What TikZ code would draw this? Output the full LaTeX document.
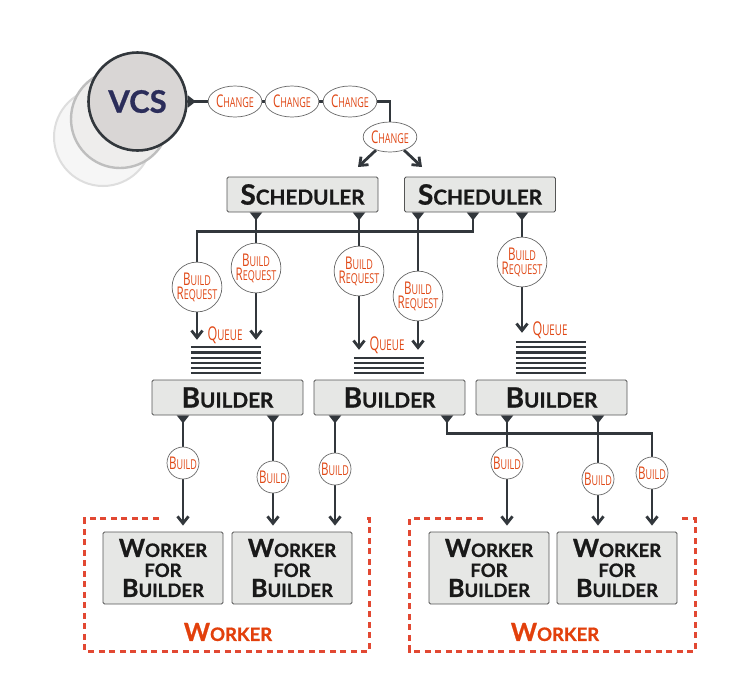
\documentclass[tikz,border=0pt]{standalone}
\usepackage{fontspec}
\setmainfont{Lato}[BoldFeatures={FakeBold=0.8}]
\newfontfamily\lblfont[FakeStretch=0.66]{Open Sans}
\usetikzlibrary{arrows.meta,shapes.geometric}
\definecolor{linec}{RGB}{50,55,60}
\definecolor{boxfill}{RGB}{230,231,229}
\definecolor{boxline}{RGB}{85,85,85}
\definecolor{msgtext}{RGB}{224,72,22}
\definecolor{msgline}{RGB}{105,105,105}
\definecolor{worker}{RGB}{226,64,12}
\definecolor{dashred}{RGB}{226,72,50}
\definecolor{vcsfill}{RGB}{217,214,213}
\definecolor{vcstext}{RGB}{43,45,90}
\definecolor{ghostA}{RGB}{238,237,236}
\definecolor{ghostAline}{RGB}{190,190,190}
\definecolor{ghostB}{RGB}{246,246,246}
\definecolor{ghostBline}{RGB}{222,222,222}
\makeatletter
\newcommand\scratio{0.74}
\newcommand\fsc[2]{#1{\fontsize{\fpeval{\scratio*\f@size}}{\f@baselineskip}\selectfont #2}}
\makeatother
\pgfdeclarelayer{bg}
\pgfsetlayers{bg,main}

\begin{document}
\begin{tikzpicture}[x=1pt, y=-1pt,
    every node/.style={inner sep=0pt},
    line/.style={draw=linec, line width=2.8pt},
    conn/.style={line, {Triangle[reversed, width=12pt, length=8pt]}-},
    arr/.style={line, -{Straight Barb[length=7pt, width=11pt]}},
    box/.style={draw=boxline, fill=boxfill, line width=0.8pt, rounded corners=1.5pt,
        minimum width=151pt, minimum height=35pt, text=black!90,
        font=\bfseries\fontsize{28}{30}\selectfont},
    wbox/.style={box, minimum width=120pt, minimum height=72pt, align=center,
        font=\bfseries\fontsize{25}{20}\selectfont},
    msg/.style={draw=msgline, fill=white, line width=0.7pt, text=msgtext, align=center},
    change/.style={msg, ellipse, minimum width=50pt, minimum height=31pt,
        font=\lblfont\fontsize{17.5}{17}\selectfont\def\scratio{0.78}},
    req/.style={msg, circle, minimum size=48pt,
        font=\lblfont\fontsize{17.5}{14}\selectfont\def\scratio{0.78}},
    build/.style={msg, circle, minimum size=32pt,
        font=\lblfont\fontsize{17.5}{14}\selectfont\def\scratio{0.78}},
    queue/.style={minimum width=70pt},
    qline/.style={draw=linec, line width=2.2pt},
    qlabel/.style={text=msgtext, font=\lblfont\fontsize{19}{19}\selectfont\def\scratio{0.78}},
    grp/.style={draw=dashred, line width=2.8pt, dash pattern=on 6pt off 4.5pt},
    grplabel/.style={text=worker, font=\bfseries\fontsize{25}{25}\selectfont}
]
\useasboundingbox (0,0) rectangle (747,681);

% version control
\node[circle, minimum size=98pt, draw=ghostBline, fill=ghostB, line width=2pt] (ghost2) at (103,137) {};
\node[circle, minimum size=98pt, draw=ghostAline, fill=ghostA, line width=2.4pt] (ghost1) at (120,119) {};
\node[circle, minimum size=98pt, draw=linec, fill=vcsfill, line width=2.6pt, text=vcstext,
    font=\bfseries\fontsize{31}{31}\selectfont] (vcs) at (137.5,101.5) {VCS};

\node[change] (ch1) at (235,101.5) {\fsc{C}{HANGE}};
\node[change] (ch2) at (292,101.5) {\fsc{C}{HANGE}};
\node[change] (ch3) at (350,101.5) {\fsc{C}{HANGE}};
\node[change, minimum width=49pt, minimum height=30pt] (ch4) at (390,137) {\fsc{C}{HANGE}};
\coordinate (s1in) at (358,167);
\coordinate (s2in) at (422,167);

% schedulers
\node[box] (sch1) at (302.5,194.5) {\fsc{S}{CHEDULER}};
\node[box] (sch2) at (480,194.5) {\fsc{S}{CHEDULER}};

\node[req] (br1) at (197,287) {\fsc{B}{UILD}\\\fsc{R}{EQUEST}};
\node[req] (br2) at (256,268) {\fsc{B}{UILD}\\\fsc{R}{EQUEST}};
\node[req] (br3) at (359,271) {\fsc{B}{UILD}\\\fsc{R}{EQUEST}};
\node[req] (br4) at (418,296) {\fsc{B}{UILD}\\\fsc{R}{EQUEST}};
\node[req] (br5) at (522,262) {\fsc{B}{UILD}\\\fsc{R}{EQUEST}};

% queues
\node[queue, minimum height=34pt] (q1) at (226,357) {};
\node[queue, minimum height=24pt] (q2) at (389,362) {};
\node[queue, minimum height=41pt] (q3) at (551,353.5) {};
\foreach \q/\n in {q1/5,q2/3,q3/6}
  \foreach \i in {0,...,\n}
    \draw[qline] ([yshift=\i*5.2pt+1pt]\q.south west) -- ([yshift=\i*5.2pt+1pt]\q.south east);
\node[qlabel] (ql1) at (225,335) {\fsc{Q}{UEUE}};
\node[qlabel] (ql2) at (387,345) {\fsc{Q}{UEUE}};
\node[qlabel] (ql3) at (550,330) {\fsc{Q}{UEUE}};

% builders
\node[box] (b1) at (227.5,397.5) {\fsc{B}{UILDER}};
\node[box] (b2) at (389.5,397.5) {\fsc{B}{UILDER}};
\node[box] (b3) at (551.5,397.5) {\fsc{B}{UILDER}};

\node[build] (k1) at (183,463) {\fsc{B}{UILD}};
\node[build] (k2) at (273,477) {\fsc{B}{UILD}};
\node[build] (k3) at (335,469) {\fsc{B}{UILD}};
\node[build] (k4) at (507,463) {\fsc{B}{UILD}};
\node[build] (k5) at (598,479) {\fsc{B}{UILD}};
\node[build] (k6) at (652,473) {\fsc{B}{UILD}};

% workers
\node (wg1) [minimum width=284pt, minimum height=132pt] at (227,585) {};
\node (wg2) [minimum width=285pt, minimum height=132pt] at (552.5,585) {};
\draw[grp] ([xshift=74pt]wg1.north west) -- (wg1.north west) -- (wg1.south west)
    -- (wg1.south east) -- (wg1.north east) -- ++(-6,0);
\draw[grp] ([xshift=73pt]wg2.north west) -- (wg2.north west) -- (wg2.south west)
    -- (wg2.south east) -- (wg2.north east) -- ++(-17,0);
\node[grplabel] (wl1) at (228,632) {\fsc{W}{ORKER}};
\node[grplabel] (wl2) at (555,632) {\fsc{W}{ORKER}};

\node[wbox] (wb1) at (163,568) {\fsc{W}{ORKER}\\\fsc{}{FOR}\\\fsc{B}{UILDER}};
\node[wbox] (wb2) at (292,568) {\fsc{W}{ORKER}\\\fsc{}{FOR}\\\fsc{B}{UILDER}};
\node[wbox] (wb3) at (489,568) {\fsc{W}{ORKER}\\\fsc{}{FOR}\\\fsc{B}{UILDER}};
\node[wbox] (wb4) at (617,568) {\fsc{W}{ORKER}\\\fsc{}{FOR}\\\fsc{B}{UILDER}};

\begin{pgfonlayer}{bg}
\draw[conn] (vcs.east) -- (ch1);
\draw[line] (ch1) -- (ch2) -- (ch3) -| (ch4);
\draw[arr] (ch4) -- (s1in);
\draw[arr] (ch4) -- (s2in);
% build requests
\draw[conn] (br2 |- sch1.south) -- (br2);
\draw[arr] (br2) -- (br2 |- q1.north);
\draw[conn] (br3 |- sch1.south) -- (br3);
\draw[arr] (br3) -- (br3 |- q2.north);
\draw[conn] (br4 |- sch2.south) -- (br4);
\draw[arr] (br4) -- (br4 |- q2.north);
\draw[conn] ([xshift=-7pt]sch2.south) -- ++(0,19) -| (br1);
\draw[arr] (br1) -- (br1 |- q1.north);
\draw[conn] (br5 |- sch2.south) -- (br5);
\draw[arr] (br5) -- (br5 |- q3.north);
% builds
\draw[conn] (k1 |- b1.south) -- (k1);
\draw[arr, shorten >=6pt] (k1) -- (k1 |- wb1.north);
\draw[conn] (k2 |- b1.south) -- (k2);
\draw[arr, shorten >=6pt] (k2) -- (k2 |- wb2.north);
\draw[conn] (k3 |- b2.south) -- (k3);
\draw[arr, shorten >=6pt] (k3) -- (k3 |- wb2.north);
\draw[conn] (k4 |- b3.south) -- (k4);
\draw[arr, shorten >=6pt] (k4) -- (k4 |- wb3.north);
\draw[conn] (k5 |- b3.south) -- (k5);
\draw[arr, shorten >=6pt] (k5) -- (k5 |- wb4.north);
\draw[conn] ([xshift=57.5pt]b2.south) -- ++(0,18) -| (k6);
\draw[arr, shorten >=6pt] (k6) -- (k6 |- wb4.north);
\end{pgfonlayer}
\end{tikzpicture}
\end{document}
